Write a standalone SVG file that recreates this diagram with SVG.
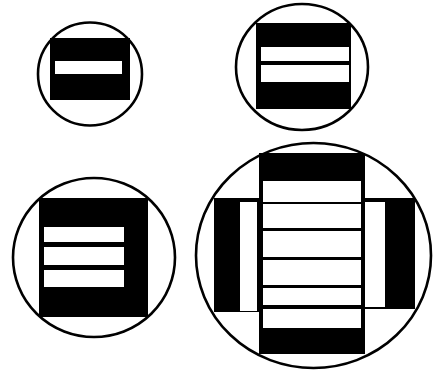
<svg xmlns="http://www.w3.org/2000/svg" width="433" height="372" viewBox="0 0 433 372">
<style>
.ring{fill:none;stroke:#000;stroke-width:2.6}
.blk{fill:#000}
.wht{fill:#fff}
</style>
<rect width="433" height="372" fill="#fff"/>
<g id="node1">
<rect class="blk" x="50" y="38" width="80" height="62"/>
<rect class="wht" x="55" y="61" width="67" height="13"/>
<ellipse class="ring" cx="90" cy="74" rx="52" ry="51.5"/>
</g>
<g id="node2">
<rect class="blk" x="256" y="23" width="95" height="86"/>
<rect class="wht" x="261" y="47" width="88" height="14"/>
<rect class="wht" x="261" y="65" width="88" height="17"/>
<ellipse class="ring" cx="302" cy="67" rx="66" ry="63"/>
</g>
<g id="node3">
<rect class="blk" x="39" y="198" width="109" height="119"/>
<rect class="wht" x="44" y="227" width="80" height="15"/>
<rect class="wht" x="44" y="247" width="80" height="18"/>
<rect class="wht" x="44" y="270" width="80" height="17"/>
<ellipse class="ring" cx="94" cy="257.5" rx="81" ry="79.5"/>
</g>
<g id="node4">
<rect class="blk" x="214" y="198" width="50" height="114"/>
<rect class="wht" x="240" y="202" width="17" height="109"/>
<rect class="blk" x="360" y="198" width="55" height="111"/>
<rect class="wht" x="365" y="202" width="20" height="105"/>
<rect class="blk" x="259" y="153" width="106" height="201"/>
<rect class="wht" x="263" y="181" width="98" height="21"/>
<rect class="wht" x="263" y="204" width="98" height="24"/>
<rect class="wht" x="263" y="231" width="98" height="26"/>
<rect class="wht" x="263" y="260" width="98" height="25"/>
<rect class="wht" x="263" y="288" width="98" height="17"/>
<rect class="wht" x="263" y="309" width="98" height="19"/>
<ellipse class="ring" cx="313.5" cy="255.5" rx="117.5" ry="112.5"/>
</g>
<g id="connectors"/>
</svg>
